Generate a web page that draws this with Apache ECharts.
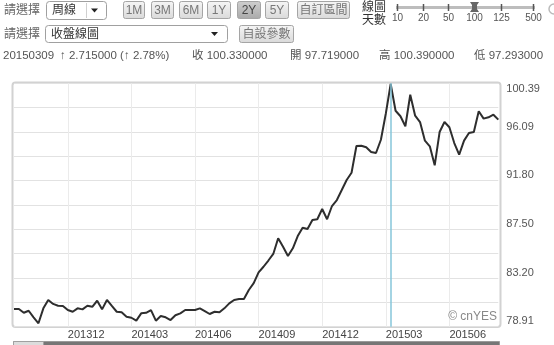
<!DOCTYPE html>
<html><head><meta charset="utf-8">
<script src="https://cdn.jsdelivr.net/npm/echarts@6/dist/echarts.min.js"></script>
<style>html,body{margin:0;padding:0;background:#fff;overflow:hidden}#c{width:554px;height:345px}</style>
</head><body><div id="c"></div>
<script>
// ---- data ----
const dates = [
'20130916','20130923','20130930','20131007','20131014','20131021','20131028','20131104','20131111','20131118',
'20131125','20131202','20131209','20131216','20131223','20131230','20140106','20140113','20140120','20140127',
'20140203','20140210','20140217','20140224','20140303','20140310','20140317','20140324','20140331','20140407',
'20140414','20140421','20140428','20140505','20140512','20140519','20140526','20140602','20140609','20140616',
'20140623','20140630','20140707','20140714','20140721','20140728','20140804','20140811','20140818','20140825',
'20140901','20140908','20140915','20140922','20140929','20141006','20141013','20141020','20141027','20141103',
'20141110','20141117','20141124','20141201','20141208','20141215','20141222','20141229','20150105','20150112',
'20150119','20150126','20150202','20150209','20150216','20150223','20150302','20150309','20150316','20150323',
'20150330','20150406','20150413','20150420','20150427','20150504','20150511','20150518','20150525','20150601',
'20150608','20150615','20150622','20150629','20150706','20150713','20150720','20150727','20150803','20150810'];
const closes = [
80.47,80.47,80.14,80.32,79.74,79.21,80.53,81.27,80.92,80.76,
80.74,80.38,80.23,80.53,80.44,80.76,80.67,81.20,80.44,81.27,
80.74,80.23,80.18,79.79,79.70,79.45,80.09,80.14,80.38,79.44,
79.86,79.74,79.50,79.92,80.09,80.38,80.38,80.38,80.53,80.29,
80.03,80.23,80.18,80.53,80.97,81.27,81.35,81.35,82.15,82.75,
83.70,84.20,84.75,85.33,86.71,85.97,85.15,85.83,86.91,87.65,
87.53,88.33,88.39,89.30,88.39,89.56,90.09,90.97,91.86,92.50,
94.86,94.88,94.74,94.33,94.24,95.41,97.70,100.33,97.97,97.48,
96.60,99.38,97.53,96.97,95.33,94.83,93.15,96.09,96.97,96.51,
95.12,94.09,95.33,96.00,96.09,97.92,97.27,97.39,97.62,97.18];
const xTickLabels = ['201312','201403','201406','201409','201412','201503','201506'];
const yTickLabels = ['78.91','83.20','87.50','91.80','96.09','100.39'];
const cursorDate = '20150309';
const rangeButtons = ['1M','3M','6M','1Y','2Y','5Y','自訂區間'];
const activeRange = '2Y';
const sliderLabels = ['10','20','50','100','125','500'];
const activeSlider = '100';
const infoTexts = ['20150309','↑ 2.715000 (↑ 2.78%)','收 100.330000','開 97.719000','高 100.390000','低 97.293000'];

// ---- layout helpers ----
const FONT = '"Liberation Sans","Noto Sans CJK TC",sans-serif';
const yMin = 78.91, yMax = 100.39, yStep = (yMax - yMin) / 10;

function txt(x, y, s, o) {
  o = o || {};
  return {type:'text', x:x, y:y, silent:true, z:100, style:{text:s, fill:o.fill||'#555', fontSize:o.size||12, fontFamily:FONT,
    textAlign:o.align||'left', align:o.align||'left', textVerticalAlign:'middle', verticalAlign:'middle'}};
}
function btn(x, w, y, h, label, active) {
  return [
    {type:'rect', silent:true, z:90, shape:{x:x+0.5, y:y+0.5, width:w, height:h, r:2},
     style:{fill:new echarts.graphic.LinearGradient(0,0,0,1,[{offset:0,color:active?'#cfcfcf':'#f6f6f6'},{offset:1,color:active?'#a9a9a9':'#d9d9d9'}]), stroke:'#a5a5a5', lineWidth:1}},
    txt(x + w/2 + 0.5, y + h/2 + 1, label, {align:'center', fill: active?'#444':'#777', size:12})
  ];
}
const g = [];
// row 1
g.push(txt(4, 11, '請選擇', {fill:'#666'}));
g.push({type:'rect', silent:true, shape:{x:46.5, y:1.5, width:60, height:18, r:3}, style:{fill:'#fff', stroke:'#a0a0a0'}});
g.push(txt(52, 11, '周線', {fill:'#333'}));
g.push({type:'line', silent:true, shape:{x1:86.5, y1:3, x2:86.5, y2:18}, style:{stroke:'#d0d0d0'}});
g.push({type:'polygon', silent:true, shape:{points:[[91,8.5],[98,8.5],[94.5,12.5]]}, style:{fill:'#222'}});
const bx = [[123,21],[151,22],[179,23],[207,23],[237,23],[265,23],[297,52]];
rangeButtons.forEach((b, i) => g.push(...btn(bx[i][0], bx[i][1], 1, 17, b, b === activeRange)));
// row 2
g.push(txt(4, 35, '請選擇', {fill:'#666'}));
g.push({type:'rect', silent:true, shape:{x:45.5, y:25.5, width:182, height:17, r:3}, style:{fill:'#fff', stroke:'#a0a0a0'}});
g.push(txt(51, 34.5, '收盤線圖', {fill:'#333'}));
g.push({type:'polygon', silent:true, shape:{points:[[211,32],[218,32],[214.5,36]]}, style:{fill:'#222'}});
g.push(...btn(239, 54, 25, 17, '自設參數', false));
// row 3 info
const infoX = [3, 60, 192, 290, 379, 474];
infoTexts.forEach((s, i) => g.push(txt(infoX[i], 56, s, {size:11.5, fill:'#555'})));
// slider
g.push(txt(362, 7.5, '線圖', {fill:'#333'}));
g.push(txt(362, 20.5, '天數', {fill:'#333'}));
g.push({type:'line', silent:true, shape:{x1:396, y1:7.5, x2:535, y2:7.5}, style:{stroke:'#bdbdbd', lineWidth:3}});
const sx = [397, 423, 448, 474, 501, 533];
sliderLabels.forEach((s, i) => {
  g.push({type:'line', silent:true, shape:{x1:sx[i]+0.5, y1:4, x2:sx[i]+0.5, y2:11}, style:{stroke:'#555', lineWidth:1.5}});
  g.push(txt(sx[i]+0.5, 18, s, {align:'center', size:10, fill:'#555'}));
  if (s === activeSlider) {
    g.push({type:'polygon', silent:true, z:101, shape:{points:[[sx[i]-4,2],[sx[i]+5,2],[sx[i]+3,5],[sx[i]+3,9],[sx[i]+5,12],[sx[i]-4,12],[sx[i]-2,9],[sx[i]-2,5]]}, style:{fill:'#666'}});
  }
});
g.push({type:'circle', silent:true, shape:{cx:554, cy:9, r:5}, style:{fill:'#fff', stroke:'#bbb', lineWidth:1.5}});
// plot frame
g.push({type:'rect', silent:true, z:-1, shape:{x:12.5, y:82.5, width:488, height:244.5, r:3}, style:{fill:'none', stroke:'#d2d2d2', lineWidth:2}});
// watermark
g.push(txt(497, 317, '© cnYES', {align:'right', size:12, fill:'#888'}));
// bottom scrollbar
g.push({type:'rect', silent:true, shape:{x:13.5, y:341.5, width:486, height:8}, style:{fill:'#767676', stroke:'#9a9a9a'}});
g.push({type:'rect', silent:true, shape:{x:13.5, y:341.5, width:30, height:8}, style:{fill:'#dcdcdc', stroke:'#a0a0a0'}});

const chart = echarts.init(document.getElementById('c'), null, {renderer:'canvas'});
chart.setOption({
  animation:false,
  backgroundColor:'#fff',
  grid:{left:14, right:55.7, top:83.3, bottom:18.3, containLabel:false},
  xAxis:{type:'category', data:dates, boundaryGap:false,
    axisLine:{show:false}, axisTick:{show:false},
    axisLabel:{interval:(i, v) => xTickLabels.includes(v.slice(0,6)) && +v.slice(6) <= 7,
      formatter:v => v.slice(0,6), align:'left', margin:3, fontSize:11, color:'#444', fontFamily:FONT},
    splitLine:{show:true, interval:(i, v) => xTickLabels.includes(v.slice(0,6)) && +v.slice(6) <= 7, lineStyle:{color:'#ebebeb', width:1}}},
  yAxis:{type:'value', position:'right', min:yMin, max:yMax, interval:yStep,
    axisLine:{show:false}, axisTick:{show:false},
    axisLabel:{margin:8, fontSize:11, color:'#555', fontFamily:FONT, verticalAlign:'bottom', verticalAlignMaxLabel:'top',
      formatter:v => {
        if (v !== yMax && Math.abs(v - yMax) < 1e-4) return '';
        const k = Math.round((v - yMin) / yStep);
        return k % 2 === 0 ? (yTickLabels[k/2] || '') : '';
      }},
    splitLine:{show:true, lineStyle:{color:'#e2e2e2', width:1}}},
  series:[{type:'line', data:closes, symbol:'none', smooth:false, lineStyle:{color:'#2e2e2e', width:2},
    markLine:{silent:true, symbol:'none', label:{show:false}, lineStyle:{color:'#86c6da', width:1.5, type:'solid'},
      data:[{xAxis:cursorDate}]}}],
  graphic:g
});
</script></body></html>
